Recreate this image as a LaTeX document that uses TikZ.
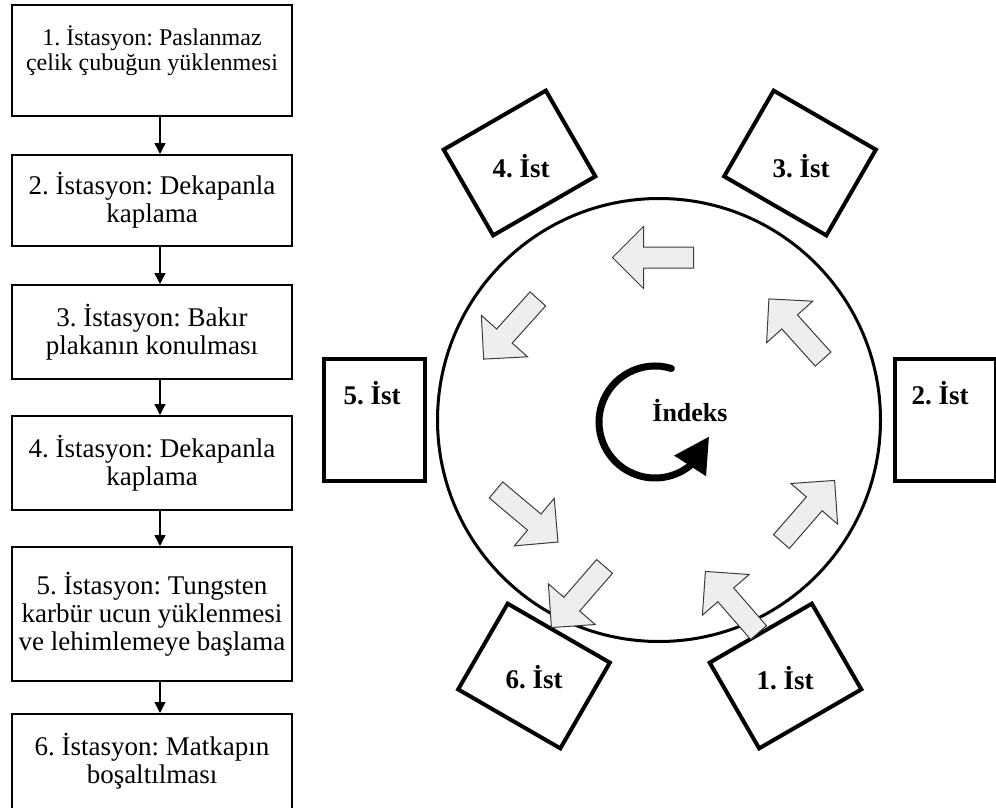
\documentclass[tikz,border=0pt]{standalone}
\usepackage{fontspec}
\setmainfont{Liberation Serif}
\frenchspacing
\usetikzlibrary{arrows.meta,bending}
\definecolor{turnFill}{RGB}{238,238,238}
\definecolor{turnLine}{RGB}{60,60,60}

\begin{document}
\begin{tikzpicture}[x=1pt, y=-1pt,
    stepbox/.style={rectangle, draw, line width=2pt, minimum width=280, inner sep=0pt, align=center, font=\fontsize{27}{28}\selectfont},
    flow/.style={-{Triangle[length=11pt,width=11pt]}, line width=1.5pt},
    station/.style={rectangle, draw, line width=4pt, inner sep=0pt},
    stlabel/.style={inner sep=0pt, anchor=base, font=\bfseries\fontsize{27}{30}\selectfont},
    turn/.pic={
        \draw[fill=turnFill, draw=turnLine, line width=1pt]
            (-40.5,-10.5) -- (9.5,-10.5) -- (9.5,-31) -- (40.5,0)
            -- (9.5,31) -- (9.5,10.5) -- (-40.5,10.5) -- cycle;
    }]
    \useasboundingbox (0,0) rectangle (996,808);

    % Process steps
    \coordinate (ax) at (160,0);
    \node[stepbox, minimum height=111] (b1) at (152,60.5) {};
    \node[inner sep=0pt, align=center, font=\fontsize{24}{25}\selectfont] (t1) at (152,51) {1. İstasyon: Paslanmaz\\çelik çubuğun yüklenmesi};
    \node[stepbox, minimum height=91] (b2) at (152,200.5) {2. İstasyon: Dekapanla\\kaplama};
    \node[stepbox, minimum height=94] (b3) at (152,332) {3. İstasyon: Bakır\\plakanın konulması};
    \node[stepbox, minimum height=94] (b4) at (152,463) {4. İstasyon: Dekapanla\\kaplama};
    \node[stepbox, minimum height=134] (b5) at (152,614) {5. İstasyon: Tungsten\\karbür ucun yüklenmesi\\ve lehimlemeye başlama};
    \node[stepbox, minimum height=95] (b6) at (152,761.5) {6. İstasyon: Matkapın\\boşaltılması};

    \foreach \a/\b in {b1/b2, b2/b3, b3/b4, b4/b5, b5/b6}
        \draw[flow] (\a.south -| ax) -- (\b.north -| ax);

    % Index table
    \coordinate (hub) at (659,420);
    \draw[line width=3pt] (hub) circle[radius=221.5];

    \node[station, minimum width=101, minimum height=122] (s5) at (374.5,420) {};
    \node[station, minimum width=101, minimum height=122] (s2) at (945.5,420) {};
    \node[station, minimum width=118, minimum height=99, rotate=30] (s4) at (519.5,163) {};
    \node[station, minimum width=118, minimum height=99, rotate=-30] (s3) at (800,163) {};
    \node[station, minimum width=118, minimum height=99, rotate=-30] (s6) at (534,676) {};
    \node[station, minimum width=118, minimum height=99, rotate=30] (s1) at (785.5,676) {};

    \node[stlabel] (l1) at (785,689) {1. İst};
    \node[stlabel] (l2) at (940,404) {2. İst};
    \node[stlabel] (l3) at (801,177) {3. İst};
    \node[stlabel] (l4) at (521,177) {4. İst};
    \node[stlabel] (l5) at (372,404) {5. İst};
    \node[stlabel] (l6) at (534,688) {6. İst};

    % transfer arrows between stations
    \foreach \p/\r in {{653,257.5}/180, {510.75,329}/228, {527,516}/-40, {578,597}/229,
                       {732,602}/131, {808,511}/49, {796,329}/132}
        \pic[rotate=\r] at (\p) {turn};

    % indexing direction
    \coordinate (ic) at (655,422);
    \draw[line width=7pt, line cap=round, -{Triangle[length=35pt,width=36pt]}]
        (ic) ++(-73:56) arc[start angle=-73, end angle=-345, radius=56];
    \node[stlabel, font=\bfseries\fontsize{26}{28}\selectfont] (idx) at (690,421) {İndeks};
\end{tikzpicture}
\end{document}
